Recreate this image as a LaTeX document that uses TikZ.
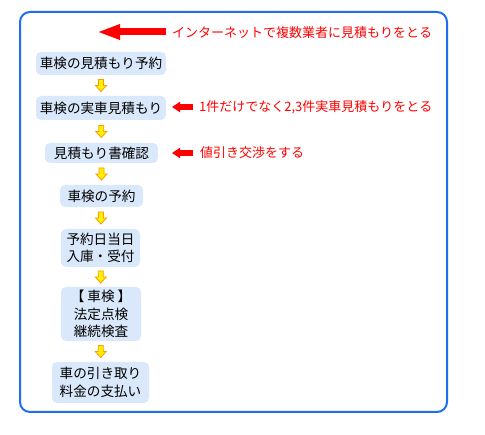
\documentclass[tikz,border=0pt]{standalone}
\usepackage{fontspec}
\setmainfont{Noto Sans CJK JP}
\usetikzlibrary{calc,arrows.meta}
\definecolor{boxfill}{HTML}{D9E8FB}
\definecolor{frameblue}{HTML}{1E6EF0}
\definecolor{arrorange}{HTML}{FF9900}
\definecolor{textred}{HTML}{FF0000}
\tikzset{
  x=1pt,y=-1pt,
  stepbox/.style={fill=boxfill,rounded corners=5pt,inner sep=0pt,align=center,
    font=\fontsize{13.6}{17.5}\selectfont,text=black},
  redtext/.style={anchor=west,inner sep=0pt,text=textred,font=\fontsize{13}{14}\selectfont},
  bigred/.style={draw=textred,line width=7pt,-{Triangle[length=23pt,width=14pt]}},
  smallred/.style={draw=textred,line width=6pt,-{Triangle[length=8pt,width=10pt]}},
  downarr/.pic={
    \filldraw[fill=yellow,draw=arrorange,line width=0.8pt,line join=miter]
      (-2.5,-6) -- (2.5,-6) -- (2.5,0) -- (5.5,0) -- (0,6) -- (-5.5,0) -- (-2.5,0) -- cycle;
  }
}
\begin{document}
\begin{tikzpicture}
\useasboundingbox (0,0) rectangle (485,435);
\fill[white] (0,0) rectangle (485,435);
\draw[frameblue,line width=2pt,rounded corners=10pt] (20,12) rectangle (447,412);

\node[stepbox,minimum width=130pt,minimum height=23pt] (b1) at (101,63.5) {車検の見積もり予約};
\node[stepbox,minimum width=130pt,minimum height=24pt] (b2) at (101,108) {車検の実車見積もり};
\node[stepbox,minimum width=113pt,minimum height=20pt] (b3) at (101.5,153) {見積もり書確認};
\node[stepbox,minimum width=83pt,minimum height=22pt] (b4) at (101.5,196) {車検の予約};
\node[stepbox,minimum width=79pt,minimum height=38pt] (b5) at (100.5,248) {予約日当日\\入庫・受付};
\node[stepbox,minimum width=80pt,minimum height=54pt] (b6) at (101,314) {【 車検 】\\法定点検\\継続検査};
\node[stepbox,minimum width=97pt,minimum height=41pt] (b7) at (100.5,382.5) {車の引き取り\\料金の支払い};

\path ($(b1.south)!0.5!(b2.north)$) pic {downarr};
\path ($(b2.south)!0.5!(b3.north)$) pic {downarr};
\path ($(b3.south)!0.5!(b4.north)$) pic {downarr};
\path ($(b4.south)!0.5!(b5.north)$) pic {downarr};
\path ($(b5.south)!0.5!(b6.north)$) pic {downarr};
\path ($(b6.south)!0.5!(b7.north)$) pic {downarr};

\node[redtext] (t1) at (172,33) {インターネットで複数業者に見積もりをとる};
\node[redtext] (t2) at (199,107) {1件だけでなく2,3件実車見積もりをとる};
\node[redtext] (t3) at (200,153) {値引き交渉をする};

\coordinate (a1s) at (166,32);
\coordinate (a1e) at (97,32);
\draw[bigred] (a1s) -- (a1e);
\coordinate (a2s) at (193,107);
\coordinate (a2e) at (172,107);
\draw[smallred] (a2s) -- (a2e);
\coordinate (a3s) at (193,153);
\coordinate (a3e) at (172,153);
\draw[smallred] (a3s) -- (a3e);
\end{tikzpicture}
\end{document}
